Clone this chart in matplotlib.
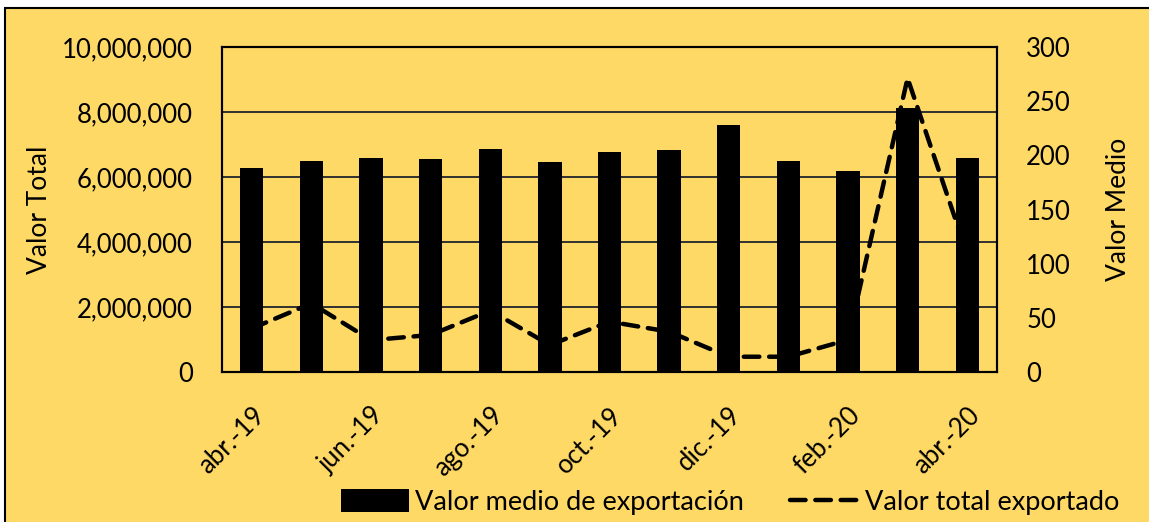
import numpy as np
import matplotlib.pyplot as plt
from matplotlib.patches import Rectangle
from matplotlib.ticker import FuncFormatter

plt.rcParams['font.family'] = ['Lato', 'DejaVu Sans']

meses = ['abr.-19', 'may.-19', 'jun.-19', 'jul.-19', 'ago.-19', 'sep.-19', 'oct.-19',
         'nov.-19', 'dic.-19', 'ene.-20', 'feb.-20', 'mar.-20', 'abr.-20']
valor_medio = [188.6, 194.5, 197.8, 196.6, 205.5, 193.5, 203.4, 204.6, 228.3, 194.5, 185.5, 243.4, 197.8]
valor_total = [1340000, 2110000, 980000, 1140000, 1890000, 830000, 1550000, 1240000,
               470000, 470000, 990000, 9040000, 3630000]

naranja = '#FFD966'
fs = 18.5

fig = plt.figure(figsize=(11.49, 5.22), dpi=100, facecolor='white')
fig.patches.append(Rectangle((5 / 1149, -0.01), 1, 1 - 8 / 522 + 0.01, transform=fig.transFigure,
                             facecolor=naranja, edgecolor='black', linewidth=1.5, zorder=0))

ax = fig.add_axes([222 / 1149, 1 - 372 / 522, 775 / 1149, 325 / 522])
ax2 = ax.twinx()
x = np.arange(len(meses))

ax.set_zorder(2)
ax2.set_zorder(1)
ax.patch.set_visible(False)
ax2.patch.set_facecolor('white')

ax2.bar(x, valor_medio, width=0.39, color='black', zorder=3, label='Valor medio de exportación')
ax.plot(x, valor_total, color='black', lw=3.2, ls=(0, (3.5, 2.2)), dash_capstyle='round',
        zorder=4, label='Valor total exportado')

ax.set_xlim(-0.5, len(meses) - 0.5)
ax.set_ylim(0, 10000000)
ax2.set_ylim(0, 300)
ax.set_yticks(np.arange(0, 10000001, 2000000))
ax2.set_yticks(np.arange(0, 301, 50))
ax.yaxis.set_major_formatter(FuncFormatter(lambda v, p: f'{int(v):,}'))
for yv in np.arange(2000000, 10000001, 2000000):
    ax2.axhline(yv / 10000000 * 300, color='#303030', lw=1.4, zorder=1)

ax.set_xticks(x[::2])
ax.set_xticklabels(meses[::2], rotation=45, ha='right', rotation_mode='anchor', fontsize=fs)
ax.tick_params(axis='x', length=0, pad=22)
ax.tick_params(axis='y', length=0, labelsize=fs, pad=21)
ax2.tick_params(axis='y', length=0, labelsize=fs, pad=21)
for a in (ax, ax2):
    for s in a.spines.values():
        s.set_color('black')
        s.set_linewidth(1.5)

ax.set_ylabel('Valor Total', fontsize=19)
ax2.set_ylabel('Valor Medio', fontsize=19)
ax.yaxis.set_label_coords((52 - 222) / 775, 0.5)
ax2.yaxis.set_label_coords((1106 - 222) / 775, 0.5)

h1, l1 = ax2.get_legend_handles_labels()
h2, l2 = ax.get_legend_handles_labels()
fig.legend(h1 + h2, l1 + l2, loc='center', bbox_to_anchor=(730 / 1149, 1 - 502 / 522), ncol=2,
           frameon=False, fontsize=19.5, handlelength=2.5, handleheight=0.9,
           handletextpad=0.25, columnspacing=1.7, borderpad=0)

fig.savefig('out.png', dpi=100, facecolor=fig.get_facecolor())
